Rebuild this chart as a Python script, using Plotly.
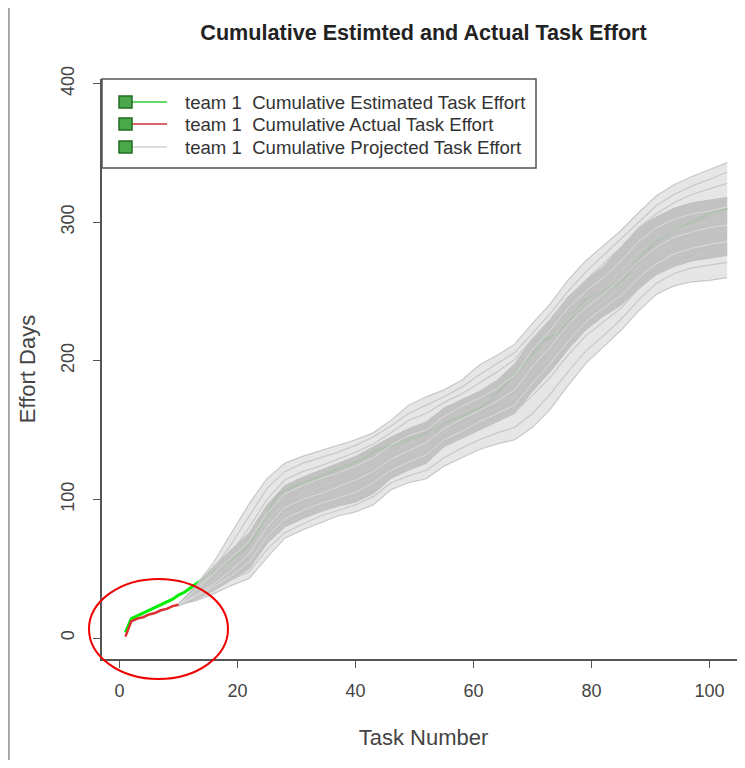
import plotly.graph_objects as go

# ---------------- data ----------------
task_numbers = list(range(1, 104))
estimated_effort = [4, 14, 16, 18, 20, 22, 24, 26, 28, 31,
                    33, 36, 39, 42, 45, 48, 51, 54, 57, 60,
                    63, 67, 74, 81, 89, 97, 104, 106, 108, 110,
                    111, 113, 115, 116, 118, 120, 122, 124, 125, 127,
                    129, 131, 134, 136, 137, 139, 140, 142, 143, 145,
                    146, 148, 150, 152, 155, 157, 159, 160, 162, 164,
                    166, 169, 172, 176, 181, 186, 191, 196, 200, 205,
                    210, 215, 217, 219, 222, 228, 234, 239, 244, 246,
                    248, 250, 252, 255, 258, 262, 268, 273, 278, 282,
                    286, 289, 292, 294, 296, 298, 300, 302, 304, 306,
                    308, 309, 310]

actual_tasks = list(range(1, 11))
actual_effort = [1, 12, 14, 15, 17, 18, 20, 21, 23, 24]

proj_tasks = list(range(10, 104, 3))
proj_outer_hi = [24, 38, 55, 76, 97, 115, 126, 131, 135, 139, 143, 148, 157, 168, 174, 179,
                 186, 197, 204, 212, 227, 241, 258, 272, 283, 294, 307, 319, 327, 333, 338, 343]
proj_outer_lo = [24, 27, 32, 38, 43, 58, 72, 78, 83, 88, 91, 96, 107, 112, 115, 124,
                 130, 136, 140, 143, 152, 165, 182, 198, 210, 222, 236, 248, 254, 257, 258, 260]
proj_core_hi = [25, 38, 52, 64, 76, 96, 110, 116, 121, 126, 131, 138, 145, 151, 156, 166,
                172, 178, 186, 198, 216, 230, 246, 258, 268, 282, 296, 304, 310, 314, 316, 318]
proj_core_lo = [23, 28, 34, 42, 50, 68, 80, 86, 91, 95, 98, 104, 115, 121, 126, 138,
                144, 150, 156, 162, 178, 192, 208, 222, 232, 240, 252, 262, 268, 272, 274, 276]
proj_runs = {
    "u2": [24, 36, 50, 68, 88, 108, 120, 126, 130, 134, 139, 145, 153, 162, 168, 174,
           181, 190, 198, 206, 220, 234, 250, 264, 276, 288, 300, 312, 320, 326, 331, 336],
    "u3": [24, 34, 46, 62, 80, 100, 114, 120, 124, 129, 134, 140, 148, 157, 162, 170,
           176, 184, 192, 201, 216, 228, 244, 258, 270, 282, 296, 306, 314, 320, 324, 328],
    "m1": [24, 33, 42, 54, 64, 84, 98, 104, 109, 113, 118, 124, 133, 140, 146, 156,
           162, 168, 175, 184, 200, 214, 230, 242, 252, 264, 278, 288, 294, 298, 300, 302],
    "m2": [24, 32, 40, 50, 59, 77, 90, 96, 101, 106, 110, 117, 126, 132, 137, 148,
           154, 160, 166, 174, 190, 204, 220, 233, 243, 254, 268, 278, 285, 289, 292, 294],
    "l3": [24, 31, 38, 46, 54, 70, 82, 88, 93, 97, 101, 108, 118, 123, 128, 139,
           145, 151, 157, 163, 175, 188, 204, 218, 228, 238, 252, 263, 270, 275, 278, 281],
    "l2": [24, 29, 35, 42, 48, 64, 76, 82, 88, 92, 96, 102, 112, 117, 121, 130,
           137, 143, 148, 152, 162, 176, 192, 207, 218, 230, 244, 256, 263, 267, 269, 271],
}
# lighter strands seen inside the dense part of the band
proj_light_runs = {
    "s1": [24, 35, 47, 58, 70, 90, 104, 110, 115, 119, 124, 130, 139, 146, 150, 160,
           167, 173, 180, 190, 208, 222, 238, 250, 260, 272, 286, 296, 302, 306, 308, 311],
    "s2": [24, 30, 37, 45, 55, 73, 86, 92, 97, 101, 105, 112, 121, 127, 132, 143,
           149, 156, 162, 168, 184, 198, 214, 228, 238, 247, 260, 270, 277, 281, 284, 286],
    "s3": [24, 31, 39, 49, 61, 80, 94, 100, 104, 109, 114, 120, 129, 135, 141, 151,
           158, 164, 171, 179, 196, 210, 226, 238, 248, 259, 272, 282, 289, 293, 296, 298],
}

x_ticks = [0, 20, 40, 60, 80, 100]
y_ticks = [0, 100, 200, 300, 400]
legend_labels = ["team 1  Cumulative Estimated Task Effort",
                 "team 1  Cumulative Actual Task Effort",
                 "team 1  Cumulative Projected Task Effort"]
legend_colors = ["#33cc33", "#cc3333", "#d0d0d0"]

# ---------------- figure ----------------
# the page body has an 8px margin, so the figure starts at screen (8, 8)
OFF = 8
W, H = 745 - OFF, 768 - 2 * OFF
ML, MR, MT = 102 - OFF, 0, 79 - OFF
MB = H - (659 - OFF)
PW, PH = W - ML - MR, H - MT - MB


def px(xs):  # screen x -> paper
    return (xs - OFF - ML) / PW


def py(ys):  # screen y -> paper
    return (MT + PH - (ys - OFF)) / PH


fig = go.Figure()

# estimated (drawn first, partly hidden by projections)
fig.add_trace(go.Scatter(x=task_numbers, y=estimated_effort, mode="lines",
                         line=dict(color="#00ee00", width=3), hoverinfo="skip"))

# projected envelope (outer) and dense core
fig.add_trace(go.Scatter(x=proj_tasks, y=proj_outer_lo, mode="lines",
                         line=dict(color="#c8c8c8", width=1.2), hoverinfo="skip"))
fig.add_trace(go.Scatter(x=proj_tasks, y=proj_outer_hi, mode="lines", fill="tonexty",
                         fillcolor="rgba(205,205,205,0.5)",
                         line=dict(color="#c8c8c8", width=1.2), hoverinfo="skip"))
fig.add_trace(go.Scatter(x=proj_tasks, y=proj_core_lo, mode="lines",
                         line=dict(color="rgba(190,190,190,0.8)", width=1), hoverinfo="skip"))
fig.add_trace(go.Scatter(x=proj_tasks, y=proj_core_hi, mode="lines", fill="tonexty",
                         fillcolor="rgba(190,190,190,0.9)",
                         line=dict(color="rgba(190,190,190,0.8)", width=1), hoverinfo="skip"))
for name, vals in proj_runs.items():
    fig.add_trace(go.Scatter(x=proj_tasks, y=vals, mode="lines",
                             line=dict(color="rgba(198,198,198,0.95)", width=1.2),
                             hoverinfo="skip"))
for name, vals in proj_light_runs.items():
    fig.add_trace(go.Scatter(x=proj_tasks, y=vals, mode="lines",
                             line=dict(color="rgba(222,222,222,0.9)", width=1),
                             hoverinfo="skip"))

# actual
fig.add_trace(go.Scatter(x=actual_tasks, y=actual_effort, mode="lines",
                         line=dict(color="#dd3030", width=2.5), hoverinfo="skip"))

shapes = []
# legend box
shapes.append(dict(type="rect", xref="paper", yref="paper",
                   x0=px(102), x1=px(536), y0=py(168), y1=py(79),
                   fillcolor="white", line=dict(color="#555555", width=1.5), layer="above"))
rows = [102, 124, 147]
annotations = []
for r, lab, col in zip(rows, legend_labels, legend_colors):
    shapes.append(dict(type="line", xref="paper", yref="paper",
                       x0=px(131), x1=px(167), y0=py(r), y1=py(r),
                       line=dict(color=col, width=1.5), layer="above"))
    shapes.append(dict(type="rect", xref="paper", yref="paper",
                       x0=px(119), x1=px(132), y0=py(r + 6), y1=py(r - 6),
                       fillcolor="#4aa84a", line=dict(color="#236b23", width=1.5), layer="above"))
    annotations.append(dict(xref="paper", yref="paper", x=px(183), y=py(r),
                            xanchor="left", yanchor="middle", showarrow=False,
                            text=lab, font=dict(size=18.6, color="#333333")))

# red highlight ellipse
shapes.append(dict(type="circle", xref="paper", yref="paper",
                   x0=px(89), x1=px(228), y0=py(679), y1=py(579),
                   line=dict(color="#ee0000", width=2), layer="above"))
# left border of the screenshot
shapes.append(dict(type="line", xref="paper", yref="paper",
                   x0=px(8.5), x1=px(8.5), y0=py(768), y1=py(0),
                   line=dict(color="#a0a0a0", width=2.5), layer="above"))

fig.update_layout(
    width=W, height=H,
    margin=dict(l=ML, r=MR, t=MT, b=MB),
    plot_bgcolor="white", paper_bgcolor="white",
    showlegend=False,
    font=dict(family="Liberation Sans, Arial, sans-serif", size=18, color="#444444"),
    title=dict(text="<b>Cumulative Estimted and Actual Task Effort</b>",
               x=0.5, xref="paper", xanchor="center",
               y=1 - (32 - OFF) / H, yref="container", yanchor="middle",
               font=dict(size=21.6, color="#222222")),
    shapes=shapes,
    annotations=annotations,
)
fig.update_xaxes(range=[-2.97, 106.02], showgrid=False, zeroline=False, automargin=False,
                 showline=True, linecolor="#555555", linewidth=1.5,
                 ticks="outside", ticklen=7, tickcolor="#555555", tickwidth=1,
                 tickvals=x_ticks, ticklabelstandoff=8,
                 title=dict(text="Task Number", standoff=29))
fig.update_yaxes(range=[-15.15, 403.3], showgrid=False, zeroline=False, automargin=False,
                 showline=True, linecolor="#555555", linewidth=1.5,
                 ticks="outside", ticklen=7, tickcolor="#555555", tickwidth=1,
                 tickvals=y_ticks, tickangle=-90, ticklabelstandoff=12,
                 title=dict(text="Effort Days", standoff=16))

fig.write_html("out.html")
